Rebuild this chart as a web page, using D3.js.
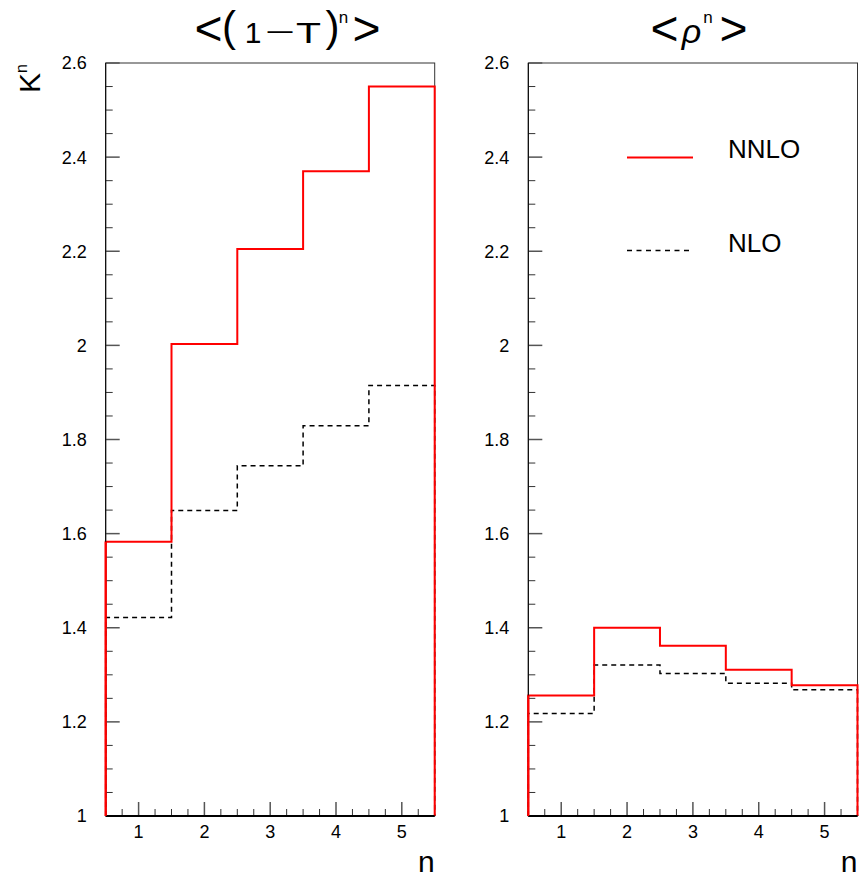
<!DOCTYPE html>
<html>
<head>
<meta charset="utf-8">
<script src="https://cdn.jsdelivr.net/npm/d3@7"></script>
<style>
  html, body { margin: 0; padding: 0; background: #fff; }
  text { font-family: "Liberation Sans", Arial, Helvetica, sans-serif; fill: #000; }
</style>
</head>
<body>
<svg id="chart" width="861" height="879"></svg>
<script>
// ---- data ----
const nValues = [1, 2, 3, 4, 5];
const binEdges = [0.5, 1.5, 2.5, 3.5, 4.5, 5.5];
const thrustNNLO = [1.583, 2.003, 2.205, 2.370, 2.550];
const thrustNLO  = [1.422, 1.649, 1.744, 1.829, 1.915];
const rhoNNLO    = [1.256, 1.400, 1.362, 1.311, 1.278];
const rhoNLO     = [1.218, 1.321, 1.303, 1.282, 1.268];
const yTickValues = [1, 1.2, 1.4, 1.6, 1.8, 2, 2.2, 2.4, 2.6];
const yTickLabels = ["1", "1.2", "1.4", "1.6", "1.8", "2", "2.2", "2.4", "2.6"];
const xTickLabels = ["1", "2", "3", "4", "5"];
const seriesNames = ["NNLO", "NLO"];

(function () {
const svg = d3.select("#chart");
const yDomain = [1, 2.6];
const xDomain = [0.5, 5.5];
const yTop = 63, yBottom = 816;

const panels = [
  { x0: 105.7, x1: 434.7, nnlo: thrustNNLO, nlo: thrustNLO },
  { x0: 528.3, x1: 857.5, nnlo: rhoNNLO, nlo: rhoNLO }
];

const y = d3.scaleLinear().domain(yDomain).range([yBottom, yTop]);

function stepPoints(vals) {
  const pts = [[binEdges[0], yDomain[0]]];
  vals.forEach((v, i) => { pts.push([binEdges[i], v]); pts.push([binEdges[i + 1], v]); });
  pts.push([binEdges[binEdges.length - 1], yDomain[0]]);
  return pts;
}

panels.forEach(p => {
  const x = d3.scaleLinear().domain(xDomain).range([p.x0, p.x1]);
  const g = svg.append("g");

  // frame
  g.append("rect").attr("x", p.x0).attr("y", yTop).attr("width", p.x1 - p.x0).attr("height", yBottom - yTop)
    .attr("fill", "none").attr("stroke", "#333").attr("stroke-width", 1);

  const line = d3.line().x(d => x(d[0])).y(d => y(d[1]));

  // NLO dashed
  g.append("path").attr("d", line(stepPoints(p.nlo))).attr("fill", "none")
    .attr("stroke", "#000").attr("stroke-width", 1.5).attr("stroke-dasharray", "5,4");
  // NNLO solid red
  g.append("path").attr("d", line(stepPoints(p.nnlo))).attr("fill", "none")
    .attr("stroke", "#ff0000").attr("stroke-width", 2);

  // y minor ticks
  const yMinor = d3.range(1, 2.6001, 0.05).filter(v => !yTickValues.some(t => Math.abs(t - v) < 1e-6));
  g.selectAll(".ymin").data(yMinor).join("line")
    .attr("x1", p.x0).attr("x2", p.x0 + 7).attr("y1", d => y(d)).attr("y2", d => y(d))
    .attr("stroke", "#333").attr("stroke-width", 1);
  // y major ticks
  g.selectAll(".ymaj").data(yTickValues).join("line")
    .attr("x1", p.x0).attr("x2", p.x0 + 14).attr("y1", d => y(d)).attr("y2", d => y(d))
    .attr("stroke", "#555").attr("stroke-width", 1.5);
  g.selectAll(".ylab").data(yTickValues).join("text")
    .attr("x", p.x0 - 19).attr("y", d => y(d)).attr("dy", "0.36em")
    .attr("text-anchor", "end").attr("font-size", 18)
    .text((d, i) => yTickLabels[i]);

  // x minor ticks
  const xMinor = d3.range(0.75, 5.5, 0.25).filter(v => !nValues.some(t => Math.abs(t - v) < 1e-6));
  g.selectAll(".xmin").data(xMinor).join("line")
    .attr("x1", d => x(d)).attr("x2", d => x(d)).attr("y1", yBottom).attr("y2", yBottom - 7)
    .attr("stroke", "#333").attr("stroke-width", 1);
  g.selectAll(".xmaj").data(nValues).join("line")
    .attr("x1", d => x(d)).attr("x2", d => x(d)).attr("y1", yBottom).attr("y2", yBottom - 14)
    .attr("stroke", "#555").attr("stroke-width", 1.5);
  g.selectAll(".xlab").data(nValues).join("text")
    .attr("x", d => x(d)).attr("y", 838).attr("text-anchor", "middle").attr("font-size", 18)
    .text((d, i) => xTickLabels[i]);

  // axes lines
  g.append("line").attr("x1", p.x0).attr("x2", p.x0).attr("y1", yTop).attr("y2", yBottom)
    .attr("stroke", "#000").attr("stroke-width", 1);
  g.append("line").attr("x1", p.x0).attr("x2", p.x1).attr("y1", yBottom).attr("y2", yBottom)
    .attr("stroke", "#000").attr("stroke-width", 2);
  // re-draw red vertical on left edge
  g.append("line").attr("x1", x(binEdges[0])).attr("x2", x(binEdges[0]))
    .attr("y1", y(p.nnlo[0])).attr("y2", yBottom).attr("stroke", "#ff0000").attr("stroke-width", 2);

  // x axis label
  g.append("text").attr("x", p.x1).attr("y", 872).attr("text-anchor", "end").attr("font-size", 30).text("n");
});

// y axis label K^n (rotated)
const kl = svg.append("text").attr("transform", "translate(40,64) rotate(-90)")
  .attr("text-anchor", "end").attr("font-size", 30);
kl.append("tspan").text("K");
kl.append("tspan").attr("font-size", 16).attr("dy", -13).text("n");

function glyph(txt, cx, base, size, extra) {
  const t = svg.append("text").attr("x", cx).attr("y", base).attr("text-anchor", "middle")
    .attr("font-size", size).text(txt);
  if (extra) extra(t);
  return t;
}
// Title 1: <(1−T)^n>
glyph("<", 208.5, 45, 48);
glyph("(", 229, 41, 42);
glyph("1", 253, 42.5, 30);
glyph("\u2212", 280, 41, 26, t => t.attr("textLength", 30).attr("lengthAdjust", "spacingAndGlyphs"));
glyph("T", 308.5, 42.5, 30, t => t.attr("textLength", 25).attr("lengthAdjust", "spacingAndGlyphs"));
glyph(")", 332.5, 41, 42);
glyph("n", 343.5, 23, 17);
glyph(">", 366.5, 45, 48);

// Title 2: <ρ^n>
glyph("<", 664.5, 45, 48);
glyph("\u03C1", 691.5, 43, 34, t => t.attr("font-style", "italic"));
glyph("n", 708, 23, 17);
glyph(">", 733.5, 45, 48);

// Legend
const leg = svg.append("g");
leg.append("line").attr("x1", 627).attr("x2", 693).attr("y1", 157.5).attr("y2", 157.5)
  .attr("stroke", "#ff0000").attr("stroke-width", 2);
leg.append("text").attr("x", 728).attr("y", 158).attr("font-size", 26).text(seriesNames[0]);
leg.append("line").attr("x1", 627).attr("x2", 693).attr("y1", 250.5).attr("y2", 250.5)
  .attr("stroke", "#000").attr("stroke-width", 1.5).attr("stroke-dasharray", "5,4.5");
leg.append("text").attr("x", 728).attr("y", 252).attr("font-size", 26).text(seriesNames[1]);
})();
</script>
</body>
</html>
